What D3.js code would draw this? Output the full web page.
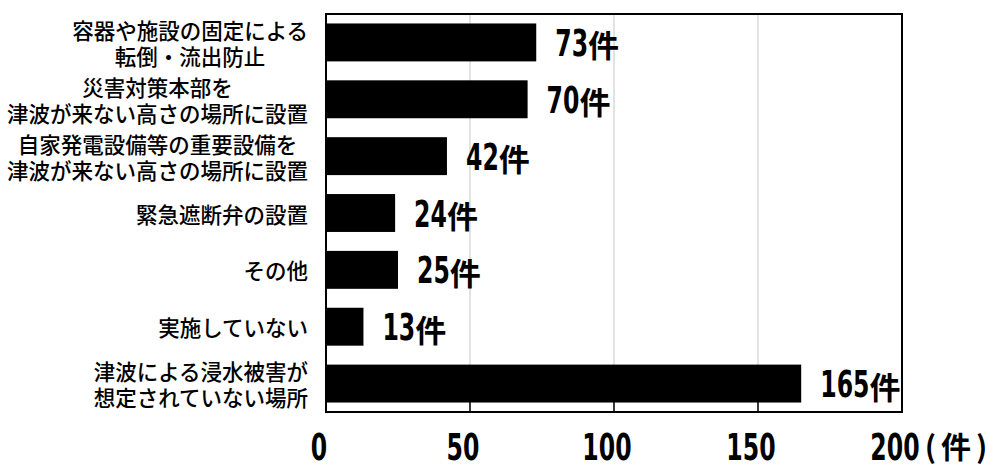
<!DOCTYPE html>
<html>
<head>
<meta charset="utf-8">
<script src="https://cdn.jsdelivr.net/npm/d3@7"></script>
<style>
  body { margin: 0; background: #fff; }
</style>
</head>
<body>
<div id="chart"></div>
<script>
// data
const categories = [
    "容器や施設の固定による\n転倒・流出防止",
    "災害対策本部を\n津波が来ない高さの場所に設置",
    "自家発電設備等の重要設備を\n津波が来ない高さの場所に設置",
    "緊急遮断弁の設置",
    "その他",
    "実施していない",
    "津波による浸水被害が\n想定されていない場所"
];
const counts = [73, 70, 42, 24, 25, 13, 165];
const tickValues = [0, 50, 100, 150, 200];
const valueSuffix = "件";
const axisUnit = "(件)";

// set the dimensions and margins of the graph
const margin = {top: 14, right: 86, bottom: 52, left: 326},
        width = 988 - margin.left - margin.right,
        height = 464 - margin.top - margin.bottom;

const numFont = "'Liberation Sans Narrow', 'DejaVu Sans Condensed', sans-serif";
const jpFont = "'Noto Sans CJK JP', 'Noto Sans', sans-serif";
const squeeze = 0.7;

const svg = d3.select("#chart")
    .append("svg")
    .attr("width", width + margin.left + margin.right)
    .attr("height", height + margin.top + margin.bottom)
    .append("g")
    .attr("transform", `translate(${margin.left}, ${margin.top})`);

const x = d3.scaleLinear()
    .domain([0, 200])
    .range([0, width]);

const y = d3.scaleBand()
    .domain(categories)
    .range([0, height])
    .paddingInner(0.333)
    .paddingOuter(0.1665);

// gray gridlines
svg.append("g")
    .selectAll("line")
    .data(tickValues.slice(1, -1))
    .enter()
    .append("line")
        .attr("x1", function(d) { return x(d); })
        .attr("x2", function(d) { return x(d); })
        .attr("y1", 0)
        .attr("y2", height)
        .style("stroke", "#d9d9d9")
        .style("stroke-width", 1.5);

// bars
svg.append("g")
    .selectAll("rect")
    .data(counts)
    .enter()
    .append("rect")
        .attr("x", x(0))
        .attr("y", function(d, i) { return y(categories[i]); })
        .attr("width", function(d) { return x(d) - x(0); })
        .attr("height", y.bandwidth())
        .style("fill", "#000");

// inner tick marks on the bottom edge
svg.append("g")
    .selectAll("line")
    .data(tickValues)
    .enter()
    .append("line")
        .attr("x1", function(d) { return x(d); })
        .attr("x2", function(d) { return x(d); })
        .attr("y1", height)
        .attr("y2", height - 10)
        .style("stroke", "#000")
        .style("stroke-width", 1.5);

// plot frame
svg.append("rect")
    .attr("x", 0)
    .attr("y", 0)
    .attr("width", width)
    .attr("height", height)
    .style("fill", "none")
    .style("stroke", "#000")
    .style("stroke-width", 2);

// condensed digits, returns drawn width
function drawNumber(parent, str, px, py, anchor) {
    const t = parent.append("text")
        .attr("transform", `translate(${px}, ${py}) scale(${squeeze}, 1)`)
        .attr("text-anchor", anchor)
        .style("font-family", numFont)
        .style("font-weight", "bold")
        .style("font-size", "37.5px")
        .style("fill", "#000")
        .text(str);
    return t.node().getComputedTextLength() * squeeze;
}

// value labels
const labels = svg.append("g");
counts.forEach(function(d, i) {
    const lx = x(d) + 19;
    const ly = y(categories[i]) + y.bandwidth() / 2 + 13.5;
    const w = drawNumber(labels, String(d), lx, ly, "start");
    labels.append("text")
        .attr("x", lx + w)
        .attr("y", ly + 1.5)
        .style("font-family", jpFont)
        .style("font-weight", "bold")
        .style("font-size", "31px")
        .style("fill", "#000")
        .text(valueSuffix);
});

// x tick labels
const ticks = svg.append("g");
let lastW = 0;
tickValues.forEach(function(d) {
    lastW = drawNumber(ticks, String(d), x(d) - 7, height + 48, "middle");
});
ticks.append("text")
    .attr("x", x(200) - 7 + lastW / 2 + 5)
    .attr("y", height + 46)
    .style("font-family", jpFont)
    .style("font-weight", "bold")
    .style("font-size", "30px")
    .style("letter-spacing", "5px")
    .style("fill", "#000")
    .text(axisUnit);

// category labels: lines centred within a right-aligned block
const catGroup = svg.append("g");
const lineGap = 26;
categories.forEach(function(c) {
    const lines = c.split("\n");
    const cy = y(c) + y.bandwidth() / 2;
    const t = catGroup.append("text")
        .attr("text-anchor", "middle")
        .style("font-family", jpFont)
        .style("font-weight", 500)
        .style("font-size", "21.5px")
        .style("fill", "#000");
    t.selectAll("tspan")
        .data(lines)
        .enter()
        .append("tspan")
            .attr("x", 0)
            .attr("y", function(d, i) { return cy + (i - (lines.length - 1) / 2) * lineGap; })
            .attr("dominant-baseline", "central")
            .text(function(d) { return d; });
    let maxW = 0;
    t.selectAll("tspan").each(function() {
        maxW = Math.max(maxW, this.getComputedTextLength());
    });
    t.selectAll("tspan").attr("x", -18 - maxW / 2);
});
</script>
</body>
</html>
